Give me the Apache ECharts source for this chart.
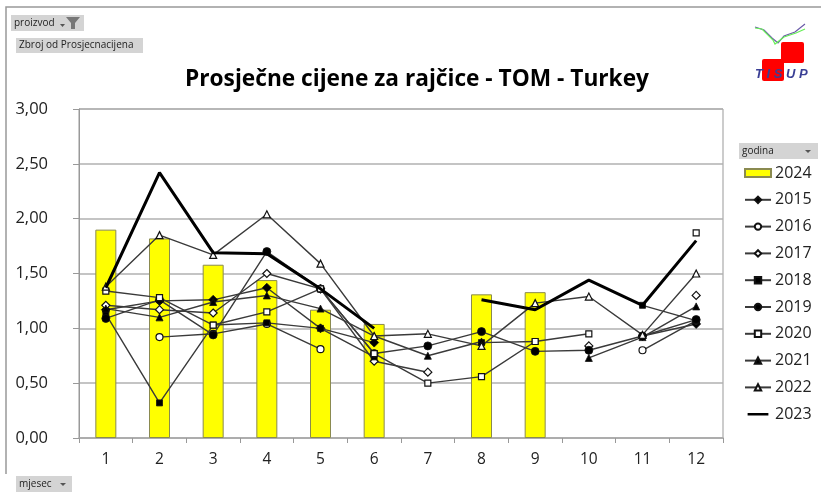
<!DOCTYPE html>
<html><head><meta charset="utf-8">
<style>html,body{margin:0;padding:0;background:#fff}#c{width:821px;height:494px;filter:blur(0.45px)}</style>
<script src="https://cdn.jsdelivr.net/npm/echarts@6/dist/echarts.min.js"></script></head>
<body><div id="c"></div>
<script>
const months = ['1','2','3','4','5','6','7','8','9','10','11','12'];
const chartTitle = 'Prosječne cijene za rajčice - TOM - Turkey';
const y2024 = [1.90,1.82,1.58,1.44,1.17,1.04,null,1.31,1.33,null,null,null];
const y2015 = [1.17,1.25,1.26,1.37,1.00,0.87,null,null,null,null,0.93,1.04];
const y2016 = [null,0.92,0.95,1.04,0.81,null,null,null,null,null,0.80,1.07];
const y2017 = [1.21,1.17,1.14,1.50,1.36,0.70,0.60,null,null,0.84,null,1.30];
const y2018 = [1.13,0.32,1.03,1.05,1.00,0.74,null,0.87,0.88,null,1.21,1.07];
const y2019 = [1.09,1.26,0.94,1.70,1.36,0.77,0.84,0.97,0.79,0.80,0.93,1.08];
const y2020 = [1.34,1.28,1.03,1.15,1.36,0.77,0.50,0.56,0.88,0.95,null,1.87];
const y2021 = [1.18,1.10,1.24,1.30,1.18,0.93,0.75,0.88,null,0.73,0.92,1.20];
const y2022 = [1.38,1.85,1.67,2.04,1.59,0.93,0.95,0.84,1.23,1.29,0.94,1.50];
const y2023 = [1.37,2.42,1.69,1.68,1.36,1.00,null,1.26,1.17,1.44,1.21,1.80];

const ink = '#222';
function line(name, data, symbol, fill, size) {
  return {name, type:'line', data, symbol, symbolSize:size||7, connectNulls:false, showAllSymbol:true,
    lineStyle:{color:'#3a3a3a', width:1.4},
    itemStyle:{color:fill, borderColor:'#111', borderWidth:fill==='#fff'?1.2:0.8}, z:3};
}
const series = [
  {name:'2024', type:'bar', data:y2024, barWidth:21,
   itemStyle:{color:'#ffff00', borderColor:'#8a8a50', borderWidth:1}, z:2},
  line('2015', y2015, 'diamond', '#000', 9),
  line('2016', y2016, 'circle', '#fff', 7),
  line('2017', y2017, 'diamond', '#fff', 8),
  line('2018', y2018, 'rect', '#000', 6),
  line('2019', y2019, 'circle', '#000', 8),
  line('2020', y2020, 'rect', '#fff', 6),
  line('2021', y2021, 'triangle', '#000', 7),
  line('2022', y2022, 'triangle', '#fff', 7),
  {name:'2023', type:'line', data:y2023, symbol:'none', connectNulls:false,
   lineStyle:{color:'#000', width:3}, itemStyle:{color:'#000'}, z:4}
];
function button(x,y,w,h,text,fs){
  return [{type:'rect',shape:{x,y,width:w,height:h},style:{fill:'#d4d4d4'},silent:true},
          {type:'text',x:x+3,y:y+h/2,style:{text,fill:'#222',font:fs+'px "Open Sans"',verticalAlign:'middle'},silent:true}];
}
const graphics = [
  {type:'polyline',shape:{points:[[6,474],[6,7],[821,7]]},style:{stroke:'#999',lineWidth:1.5,fill:'none'},silent:true},
  ...button(11,15,73,16,'proizvod',10),
  {type:'polygon',shape:{points:[[66,17],[80,17],[75,23],[75,29],[71,29],[71,23]]},style:{fill:'#777'},silent:true},
  {type:'polygon',shape:{points:[[60,24],[65,24],[62.5,27]]},style:{fill:'#555'},silent:true},
  ...button(16,38,127,15,'Zbroj od Prosjecnacijena',10),
  ...button(739,143,79,16,'godina',10),
  {type:'polygon',shape:{points:[[805,150],[811,150],[808,153]]},style:{fill:'#555'},silent:true},
  ...button(16,476,56,16,'mjesec',10),
  {type:'polygon',shape:{points:[[60,483],[66,483],[63,486]]},style:{fill:'#555'},silent:true},
  {type:'rect',shape:{x:781,y:42,width:23,height:21,r:2},style:{fill:'#ff0000'},silent:true},
  {type:'rect',shape:{x:762,y:59,width:22,height:22,r:2},style:{fill:'#ff0000'},silent:true},
  {type:'polyline',shape:{points:[[755,27],[764,30],[772,38],[778,43],[784,36],[795,32],[805,24]]},style:{stroke:'#6a5aa8',lineWidth:1.2,fill:'none'},silent:true},
  {type:'polyline',shape:{points:[[755,28],[762,29],[773,40],[775,44],[784,37],[796,33],[805,29]]},style:{stroke:'#66ee55',lineWidth:1.2,fill:'none'},silent:true},
  {type:'text',x:755,y:68,style:{text:'T I S U P',fill:'#3a3f95',font:'italic bold 13px "Liberation Sans"'},silent:true}
];
const thickLineIcon = 'path://M0 0L26 0L26 0.01ZM0 3.5H26V6.5H0ZM0 10L26 10L26 10.01Z';
const chart = echarts.init(document.getElementById('c'), null, {renderer:'canvas'});
chart.setOption({
  animation:false, backgroundColor:'#fff',
  title:{text:chartTitle, left:412, top:63, textAlign:'center',
    textStyle:{fontFamily:'"Open Sans"', fontWeight:'bold', fontSize:22.7, color:'#000'}},
  grid:{left:79, top:109, width:644, height:329, show:true, borderColor:'#999', borderWidth:1},
  legend:{orient:'vertical', left:739, top:159, itemWidth:26, itemHeight:8, itemGap:8.8,
    textStyle:{fontFamily:'"Open Sans"', fontSize:16, color:ink, padding:[0,0,0,-1], lineHeight:18}, selectedMode:false,
    data:[{name:'2024',icon:'rect'},'2015','2016','2017','2018','2019','2020','2021','2022',{name:'2023',icon:thickLineIcon}]},
  xAxis:{type:'category', data:months, boundaryGap:true,
    axisLine:{lineStyle:{color:'#aaa',width:1.5}}, axisTick:{show:true,length:5,alignWithLabel:false,lineStyle:{color:'#999'}},
    axisLabel:{fontFamily:'"Open Sans"', fontSize:15.5, color:ink, margin:14}},
  yAxis:{type:'value', min:0, max:3, interval:0.5,
    axisLine:{show:true,lineStyle:{color:'#999'}}, axisTick:{show:true,length:6,lineStyle:{color:'#999'}},
    splitLine:{lineStyle:{color:'#b0b0b0',width:1.5}},
    axisLabel:{fontFamily:'"Open Sans"', fontSize:16.5, color:ink, margin:31,
      formatter:v=>v.toFixed(2).replace('.',',')}},
  series, graphic:graphics
});
</script></body></html>
